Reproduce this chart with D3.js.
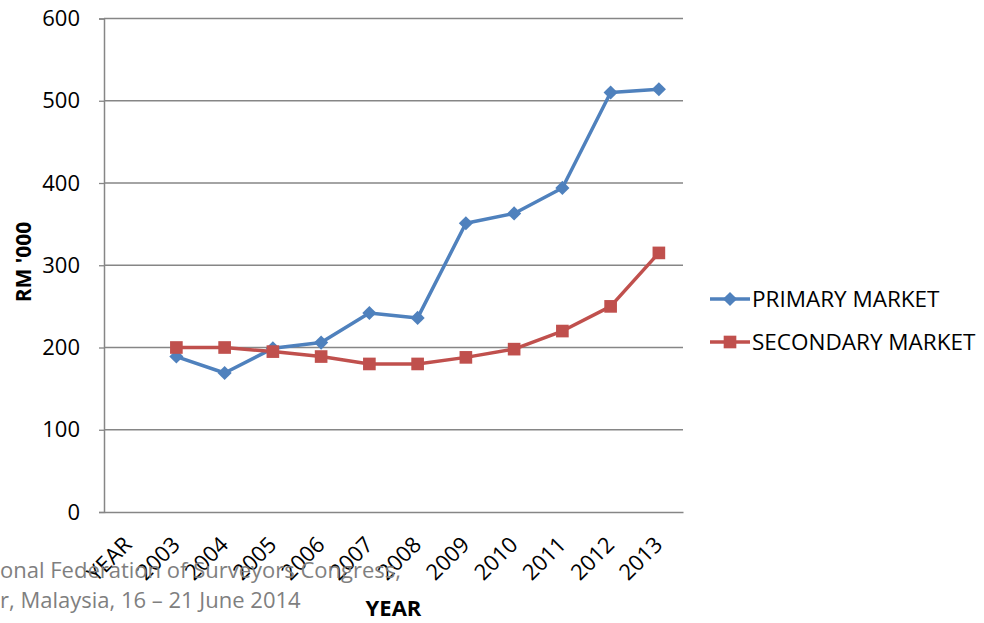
<!DOCTYPE html>
<html>
<head>
<meta charset="utf-8">
<script src="https://cdn.jsdelivr.net/npm/d3@7"></script>
<style>
  body { margin: 0; background: #fff; }
  svg { display: block; font-family: "Open Sans", sans-serif; }
</style>
</head>
<body>
<div id="chart"></div>
<script>
// categories along the x axis (first one is the header cell that Excel picked up)
var categories = ["YEAR", "2003", "2004", "2005", "2006", "2007", "2008", "2009", "2010", "2011", "2012", "2013"];
var years = ["2003", "2004", "2005", "2006", "2007", "2008", "2009", "2010", "2011", "2012", "2013"];
var primary = [189, 169, 199, 206, 242, 236, 351, 363, 394, 510, 514];
var secondary = [200, 200, 195, 189, 180, 180, 188, 198, 220, 250, 315];
var yTicks = [0, 100, 200, 300, 400, 500, 600];
var seriesNames = ["PRIMARY MARKET", "SECONDARY MARKET"];
var footer = ["onal Federation of Surveyors Congress,", "r, Malaysia, 16 \u2013 21 June 2014"];

var width = 984, height = 623;
var margin = {left: 104, right: 301, top: 18.5, bottom: 111};
var fontSize = "22px";

var svg = d3.select("#chart").append("svg")
    .attr("width", width)
    .attr("height", height);

var x = d3.scaleBand()
    .domain(categories)
    .range([margin.left, width - margin.right]);

var y = d3.scaleLinear()
    .domain([0, 600])
    .range([height - margin.bottom, margin.top]);

var grey = "#868686";

// gridlines
svg.append("g").selectAll("line")
    .data(yTicks.slice(1))
    .enter().append("line")
        .attr("x1", margin.left)
        .attr("x2", width - margin.right)
        .attr("y1", function(d) { return y(d); })
        .attr("y2", function(d) { return y(d); })
        .attr("stroke", grey)
        .attr("stroke-width", 1.3);

// y axis
var yAxis = svg.append("g")
    .attr("transform", "translate(" + margin.left + ",0)")
    .call(d3.axisLeft(y).tickValues(yTicks).tickSize(5).tickPadding(19));
yAxis.select(".domain").attr("stroke", grey).attr("stroke-width", 1.5);
yAxis.selectAll(".tick line").attr("stroke", grey).attr("stroke-width", 1.3);
yAxis.selectAll(".tick text")
    .attr("fill", "#000")
    .style("font-size", fontSize)
    .style("font-family", "'Open Sans', sans-serif");

// x axis
var xAxis = svg.append("g")
    .attr("transform", "translate(0," + y(0) + ")")
    .call(d3.axisBottom(x).tickSize(0).tickSizeOuter(0));
xAxis.select(".domain").attr("stroke", grey).attr("stroke-width", 1.5);
xAxis.selectAll(".tick text")
    .attr("fill", "#000")
    .style("font-size", fontSize)
    .style("font-family", "'Open Sans', sans-serif")
    .attr("text-anchor", "end")
    .attr("dy", null)
    .attr("y", 0)
    .attr("transform", "translate(5,34) rotate(-45)");

// footer text (cut off on the left in the original slide)
svg.append("g").selectAll("text")
    .data(footer)
    .enter().append("text")
        .attr("x", 0)
        .attr("y", function(d, i) { return 578 + i * 30; })
        .attr("fill", "#7f7f7f")
        .style("font-size", fontSize)
        .text(function(d) { return d; });

// axis titles
svg.append("text")
    .attr("x", (margin.left + width - margin.right) / 2)
    .attr("y", 616)
    .attr("text-anchor", "middle")
    .style("font-size", fontSize)
    .style("font-weight", "bold")
    .text("YEAR");

svg.append("text")
    .attr("transform", "translate(31,262) rotate(-90)")
    .attr("text-anchor", "middle")
    .style("font-size", "21px")
    .style("font-weight", "bold")
    .text("RM '000");

// lines
var series = [
    {name: seriesNames[0], values: primary, color: "#4F81BD", symbol: d3.symbolSquare, size: 100, rotate: 45},
    {name: seriesNames[1], values: secondary, color: "#C0504D", symbol: d3.symbolSquare, size: 160, rotate: 0}
];

var line = d3.line()
    .x(function(d, i) { return x(years[i]) + x.bandwidth() / 2; })
    .y(function(d) { return y(d); });

series.forEach(function(s) {
    svg.append("path")
        .datum(s.values)
        .attr("fill", "none")
        .attr("stroke", s.color)
        .attr("stroke-width", 3.5)
        .attr("stroke-linejoin", "round")
        .attr("d", line);
});

series.forEach(function(s) {
    svg.append("g").selectAll("path")
        .data(s.values)
        .enter().append("path")
            .attr("transform", function(d, i) {
                return "translate(" + (x(years[i]) + x.bandwidth() / 2) + "," + y(d) + ") rotate(" + s.rotate + ")";
            })
            .attr("fill", s.color)
            .attr("d", d3.symbol().type(s.symbol).size(s.size));
});

// legend
var legend = svg.append("g").selectAll("g")
    .data(series)
    .enter().append("g")
        .attr("transform", function(d, i) { return "translate(710," + (299 + i * 43) + ")"; });

legend.append("line")
    .attr("x1", 0).attr("x2", 40)
    .attr("stroke", function(d) { return d.color; })
    .attr("stroke-width", 3.5);

legend.append("path")
    .attr("transform", function(d) { return "translate(20,0) rotate(" + d.rotate + ")"; })
    .attr("fill", function(d) { return d.color; })
    .attr("d", function(d) { return d3.symbol().type(d.symbol).size(d.size)(); });

legend.append("text")
    .attr("x", 42)
    .attr("dy", "0.35em")
    .style("font-size", "22.5px")
    .text(function(d) { return d.name; });
</script>
</body>
</html>
